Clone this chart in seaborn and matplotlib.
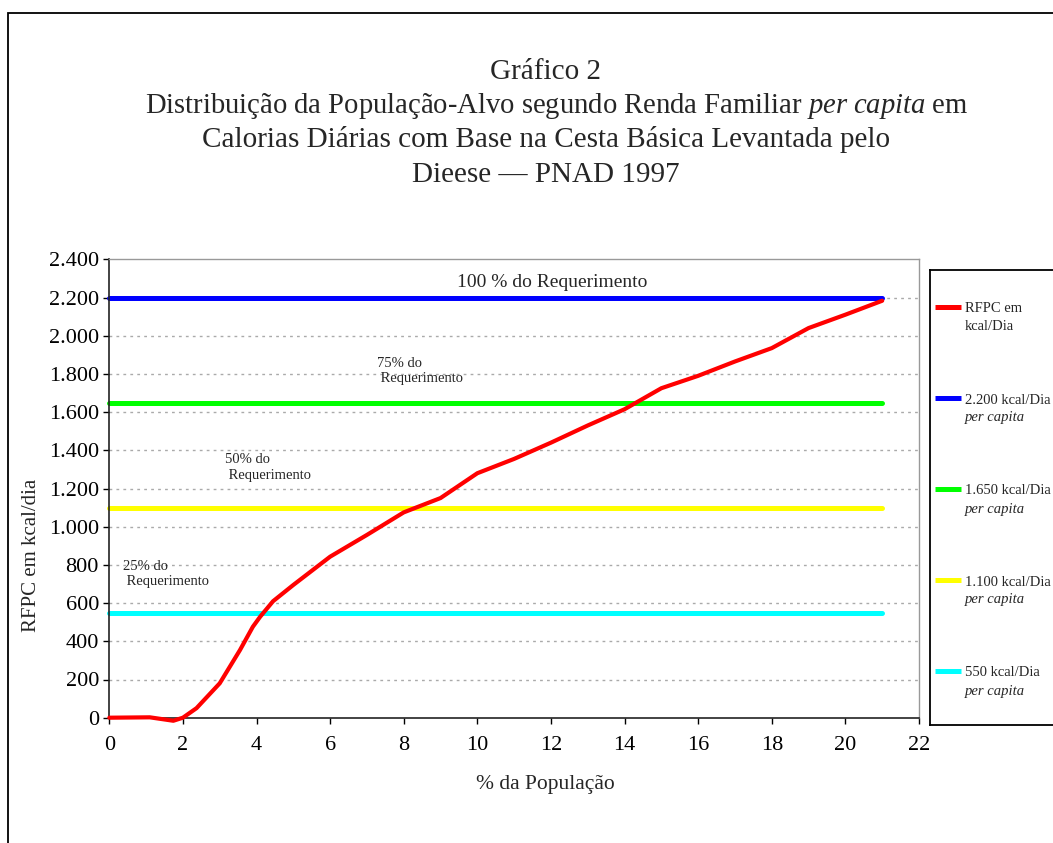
import numpy as np
import pandas as pd
import matplotlib
matplotlib.use('Agg')
import matplotlib.pyplot as plt
from matplotlib.patches import Rectangle
import seaborn as sns

# Curve: % of population vs family income per capita (kcal/day)
pop_pct = [0, 1.1, 1.74, 2, 2.37, 3.0, 3.55, 3.9, 4.1, 4.45, 5, 6, 7, 8, 9, 10,
           11, 12, 13, 14, 14.5, 15, 16, 17, 18, 19, 20, 21]
rfpc_kcal = [0, 2, -16, 0, 50, 180, 354, 476, 529, 610, 695, 843, 957, 1075, 1150, 1280,
             1355, 1440, 1530, 1615, 1670, 1725, 1790, 1865, 1935, 2040, 2110, 2183]

# Requirement reference levels
levels = [2200, 1650, 1100, 550]
level_x = [0, 21]
level_colors = ['#0000ff', '#00ff00', '#ffff00', '#00ffff']
level_labels = ['2.200 kcal/Dia', '1.650 kcal/Dia', '1.100 kcal/Dia', '550 kcal/Dia']

ytick_vals = [0, 200, 400, 600, 800, 1000, 1200, 1400, 1600, 1800, 2000, 2200, 2400]
ytick_labels = ['0', '200', '400', '600', '800', '1.000', '1.200', '1.400',
                '1.600', '1.800', '2.000', '2.200', '2.400']
xtick_vals = list(range(0, 23, 2))

# annotations: (text, x, y, size, ha)
notes = [
    ('100 % do Requerimento', 12.03, 2281, 14, 'center'),
    ('75% do\n Requerimento', 7.27, 1816, 10.5, 'left'),
    ('50% do\n Requerimento', 3.14, 1310, 10.5, 'left'),
    ('25% do\n Requerimento', 0.38, 752, 10.5, 'left'),
]

sns.set_style('white')
plt.rcParams['font.family'] = ['Liberation Serif', 'DejaVu Serif']
plt.rcParams['mathtext.fontset'] = 'custom'
plt.rcParams['mathtext.rm'] = 'Liberation Serif'
plt.rcParams['mathtext.it'] = 'Liberation Serif:italic'

W, H = 1053, 843
fig = plt.figure(figsize=(W / 100, H / 100), dpi=100)
ax = fig.add_axes([109.3 / W, 1 - 717.7 / H, 809.7 / W, 458.4 / H])

# reference lines
lv = pd.DataFrame({
    'x': level_x * len(levels),
    'y': [v for v in levels for _ in level_x],
    'serie': [lab for lab in level_labels for _ in level_x],
})
sns.lineplot(data=lv, x='x', y='y', hue='serie', palette=dict(zip(level_labels, level_colors)),
             estimator=None, sort=False, linewidth=3.6, legend=False, ax=ax, clip_on=False)

# income curve
df = pd.DataFrame({'x': pop_pct, 'y': rfpc_kcal})
sns.lineplot(data=df, x='x', y='y', color='#ff0000', linewidth=3, estimator=None,
             sort=False, legend=False, ax=ax, clip_on=False, zorder=5)

ax.set_xlim(0, 22)
ax.set_ylim(0, 2400)
ax.set_xticks(xtick_vals)
ax.set_yticks(ytick_vals)
ax.set_yticklabels(ytick_labels)
ax.set_xlabel('')
ax.set_ylabel('')
ax.tick_params(axis='both', labelsize=16, direction='out', length=4, width=1, colors='black')
ax.tick_params(axis='y', pad=3.5, left=True)
ax.tick_params(axis='x', pad=9, bottom=True)
for g in ytick_vals[1:-1]:
    ax.axhline(g, color='#aaaaaa', linestyle=(0, (2, 3)), linewidth=1, zorder=0)
for s in ['left', 'bottom']:
    ax.spines[s].set_color('#222222')
    ax.spines[s].set_linewidth(1.2)
for s in ['top', 'right']:
    ax.spines[s].set_color('#999999')
    ax.spines[s].set_linewidth(1)

for txt, x, y, size, ha in notes:
    ax.text(x, y, txt, fontsize=size, ha=ha, va='center', linespacing=1.25)

# titles and axis labels: (text, center x px, baseline px, size)
title_lines = [
    ('Gráfico 2', 546, 79, 21),
    ('Distribuição da População-Alvo segundo Renda Familiar $\\it{per\\ capita}$ em', 557, 113, 20.6),
    ('Calorias Diárias com Base na Cesta Básica Levantada pelo', 546, 147, 21),
    ('Dieese — PNAD 1997', 546, 182, 21),
]
for txt, xc, yb, fs in title_lines:
    fig.text(xc / W, 1 - yb / H, txt, fontsize=fs, ha='center', va='baseline')

fig.text(545 / W, 1 - 785 / H, '% da População', fontsize=15.5, ha='center', va='center')
fig.text(32 / W, 1 - 555 / H, 'RFPC em kcal/dia', fontsize=15, rotation=90,
         ha='center', va='center')

# legend box
lax = fig.add_axes([930 / W, 1 - 725 / H, 200 / W, 455 / H])
lax.set_xlim(0, 200)
lax.set_ylim(455, 0)
lax.set_xticks([])
lax.set_yticks([])
for s in lax.spines.values():
    s.set_color('black')
    s.set_linewidth(1.3)
leg_entries = [('#ff0000', 'RFPC em', 'kcal/Dia', False)] + \
    [(c, lab, 'per capita', True) for c, lab in zip(level_colors, level_labels)]
for i, (c, l1, l2, it) in enumerate(leg_entries):
    yy = 37 + i * 91
    lax.plot([5, 31], [yy, yy], color=c, linewidth=3.6, solid_capstyle='butt')
    lax.text(35, yy + 2, l1, fontsize=10.5, va='center', ha='left')
    lax.text(35, yy + 20, l2, fontsize=10.5, va='center', ha='left',
             style='italic' if it else 'normal')

# outer frame
fig.add_artist(Rectangle((7.5 / W, -0.2), 1.5, 1.2 - 12.5 / H, transform=fig.transFigure,
                         fill=False, edgecolor='black', linewidth=1.3, clip_on=False))

fig.savefig('out.png', dpi=100, facecolor='white')
plt.close(fig)
